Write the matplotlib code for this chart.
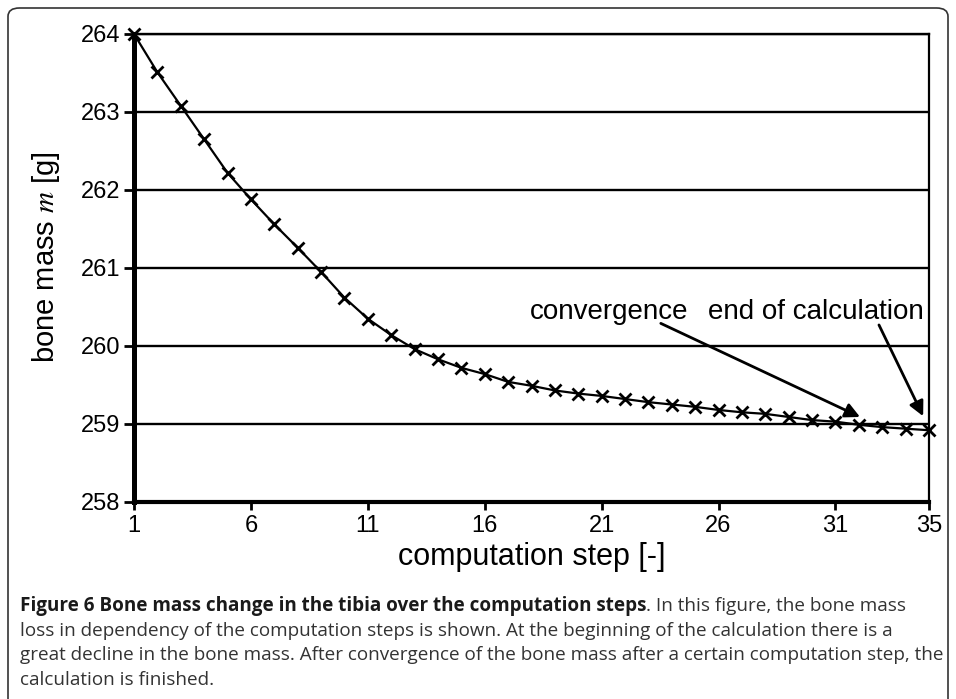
import numpy as np
import matplotlib
matplotlib.use("Agg")
from matplotlib import pyplot as plt
from matplotlib.patches import FancyBboxPatch

# data
steps = np.arange(1, 36)
bone_mass = [264.00, 263.51, 263.08, 262.65, 262.22, 261.88, 261.56, 261.26,
             260.95, 260.62, 260.35, 260.14, 259.96, 259.83, 259.72, 259.64,
             259.54, 259.49, 259.43, 259.39, 259.36, 259.32, 259.28, 259.25,
             259.22, 259.18, 259.15, 259.13, 259.09, 259.05, 259.03, 258.99,
             258.96, 258.94, 258.92]
x_ticks = [1, 6, 11, 16, 21, 26, 31, 35]
y_ticks = [258, 259, 260, 261, 262, 263, 264]

caption_bold = "Figure 6 Bone mass change in the tibia over the computation steps"
caption_lines = [
    ". In this figure, the bone mass",
    "loss in dependency of the computation steps is shown. At the beginning of the calculation there is a",
    "great decline in the bone mass. After convergence of the bone mass after a certain computation step, the",
    "calculation is finished.",
]

plt.rcParams['font.family'] = ['Liberation Sans', 'DejaVu Sans']
plt.rcParams['mathtext.fontset'] = 'stix'

W, H = 956, 699
fig = plt.figure(figsize=(W / 100, H / 100), dpi=100)

# outer rounded frame, running off the bottom of the image
frame = FancyBboxPatch((8 / W, -0.1), 940 / W, 1.1 - 8 / H,
                       boxstyle="round,pad=0,rounding_size=0.012",
                       transform=fig.transFigure, fill=False,
                       edgecolor='#333333', linewidth=1.2)
fig.patches.append(frame)

ax = fig.add_axes([134 / W, 1 - 502 / H, (929 - 134) / W, (502 - 34) / H])

ax.plot(steps, bone_mass, color='black', lw=1.6, marker='x',
        markersize=8, markeredgewidth=2, clip_on=False, zorder=5)

ax.set_xlim(1, 35)
ax.set_ylim(258, 264)
ax.set_xticks(x_ticks)
ax.set_yticks(y_ticks)
ax.tick_params(axis='both', labelsize=17, direction='out', width=2,
               color='black', pad=3)
ax.tick_params(axis='x', length=6)
ax.tick_params(axis='y', length=7)

ax.yaxis.grid(True, color='black', lw=1.7)
ax.set_axisbelow(True)
ax.spines['left'].set_linewidth(3.6)
ax.spines['bottom'].set_linewidth(3.0)
ax.spines['right'].set_linewidth(1.6)
ax.spines['top'].set_linewidth(1.7)

ax.set_xlabel("computation step [-]", fontsize=22, labelpad=4)
ax.set_ylabel("bone mass $m$ [g]", fontsize=21)
ax.yaxis.set_label_coords(-0.090, 0.523)

ax.text(21.3, 260.43, "convergence", fontsize=20, ha='center', va='center')
ax.text(30.17, 260.43, "end of calculation", fontsize=20, ha='center', va='center')
ax.annotate("", xy=(32.05, 259.09), xytext=(23.53, 260.29),
            arrowprops=dict(arrowstyle='-|>', lw=2, color='black',
                            mutation_scale=22, shrinkA=0, shrinkB=0))
ax.annotate("", xy=(34.75, 259.10), xytext=(32.86, 260.27),
            arrowprops=dict(arrowstyle='-|>', lw=2, color='black',
                            mutation_scale=22, shrinkA=0, shrinkB=0))

# caption
cap_font = ['Open Sans', 'DejaVu Sans']
cap_size = 13.6
baselines = [611, 636, 660, 685]
x0 = 20 / W
tb = fig.text(x0, 1 - baselines[0] / H, caption_bold, fontsize=cap_size,
              family=cap_font, weight='bold', color='#1a1a1a', va='baseline')
renderer = fig.canvas.get_renderer()
bb = tb.get_window_extent(renderer)
fig.text(bb.x1 / W, 1 - baselines[0] / H, caption_lines[0], fontsize=cap_size,
         family=cap_font, color='#333333', va='baseline')
for line, b in zip(caption_lines[1:], baselines[1:]):
    fig.text(x0, 1 - b / H, line, fontsize=cap_size, family=cap_font,
             color='#333333', va='baseline')

fig.savefig("out.png", dpi=100)
